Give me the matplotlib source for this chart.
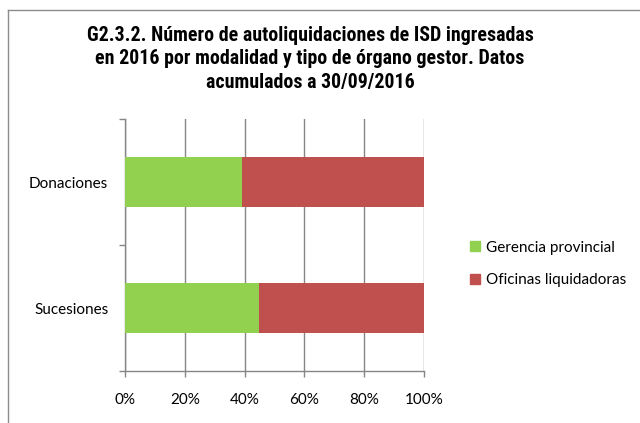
import matplotlib
matplotlib.use('Agg')
import matplotlib.pyplot as plt
from matplotlib.lines import Line2D

# Data (share of self-assessments, %)
categories = ['Sucesiones', 'Donaciones']
gerencia = [44.8, 39.2]
oficinas = [55.2, 60.8]
series_names = ['Gerencia provincial', 'Oficinas liquidadoras']
xticks = [0, 20, 40, 60, 80, 100]
xtick_labels = ['0%', '20%', '40%', '60%', '80%', '100%']

title = ('G2.3.2. Número de autoliquidaciones de ISD ingresadas\n'
         'en 2016 por modalidad y tipo de órgano gestor. Datos\n'
         'acumulados a 30/09/2016')

GREEN = '#92d050'
RED = '#c0504d'
GRID = '#868686'

label_font = ['Lato', 'DejaVu Sans']
title_font = ['Roboto Condensed', 'Roboto', 'DejaVu Sans']

fig = plt.figure(figsize=(6.4, 4.23), dpi=100)
ax = fig.add_axes([125 / 640, 52 / 423, 299 / 640, 252 / 423])

ypos = list(range(len(categories)))
ax.barh(ypos, gerencia, height=0.4, color=GREEN, label=series_names[0], zorder=3)
ax.barh(ypos, oficinas, left=gerencia, height=0.4, color=RED, label=series_names[1], zorder=3)

ax.set_xlim(0, 100)
ax.set_ylim(-0.5, len(categories) - 0.5)
ax.set_xticks(xticks)
ax.set_xticklabels(xtick_labels, family=label_font, fontsize=11)
ax.xaxis.grid(True, color=GRID, linewidth=1.0, zorder=0)

# category boundaries as major ticks, labels on minor ticks
ax.set_yticks([-0.5, 0.5, 1.5])
ax.set_yticklabels([])
ax.set_yticks(ypos, minor=True)
ax.set_yticklabels(categories, minor=True, family=label_font, fontsize=11)
ax.tick_params(axis='y', which='minor', length=0, pad=12)
ax.tick_params(axis='both', which='major', length=4, color=GRID, width=1.0)
ax.tick_params(axis='x', pad=12)

for s in ['top', 'right']:
    ax.spines[s].set_visible(False)
for s in ['left', 'bottom']:
    ax.spines[s].set_color(GRID)
    ax.spines[s].set_linewidth(1.0)

fig.text(310 / 640, 1 - 59 / 423, title, ha='center', va='center',
         family=title_font, fontsize=14.3, fontweight='bold', linespacing=1.3)

handles = [Line2D([], [], marker='s', linestyle='none', markersize=7.5, color=GREEN),
           Line2D([], [], marker='s', linestyle='none', markersize=7.5, color=RED)]
fig.legend(handles, series_names, loc='center left',
           bbox_to_anchor=(455 / 640, 1 - 264 / 423), frameon=False,
           handlelength=0.8, handletextpad=0.3, labelspacing=1.2,
           prop={'family': label_font, 'size': 11})

# chart frame (top and left edges visible)
fig.add_artist(Line2D([8 / 640, 8 / 640], [0, 1 - 10 / 423], transform=fig.transFigure,
                      color='#8c8c8c', linewidth=1.0))
fig.add_artist(Line2D([8 / 640, 1], [1 - 10 / 423, 1 - 10 / 423], transform=fig.transFigure,
                      color='#8c8c8c', linewidth=1.0))

fig.savefig('out.png', dpi=100)
